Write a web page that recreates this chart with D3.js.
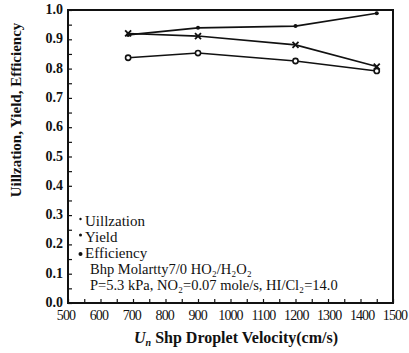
<!DOCTYPE html>
<html>
<head>
<meta charset="utf-8">
<script src="https://cdn.jsdelivr.net/npm/d3@7"></script>
<style>
  body { margin: 0; background: #fff; }
  text { font-family: "Liberation Serif", "DejaVu Serif", serif; fill: #111; }
</style>
</head>
<body>
<div id="chart"></div>
<script>
// values
var velocity = [685, 900, 1200, 1450];
var utilization = [0.915, 0.939, 0.945, 0.989];
var yieldVals = [0.920, 0.911, 0.881, 0.807];
var efficiency = [0.837, 0.853, 0.826, 0.792];
var xTicks = [500, 600, 700, 800, 900, 1000, 1100, 1200, 1300, 1400, 1500];
var yTicks = [0.0, 0.1, 0.2, 0.3, 0.4, 0.5, 0.6, 0.7, 0.8, 0.9, 1.0];

const width = 409, height = 353;
const margin = {top: 10, right: 16, bottom: 50, left: 68};

const svg = d3.select("#chart").append("svg")
  .attr("width", width)
  .attr("height", height);

const x = d3.scaleLinear().domain([500, 1500]).range([margin.left, width - margin.right]);
const y = d3.scaleLinear().domain([0, 1]).range([height - margin.bottom, margin.top]);

// minor + major ticks, drawn inward
const xAxis = d3.axisTop(x).tickValues(d3.range(500, 1501, 50)).tickSize(4).tickFormat("");
const yAxis = d3.axisRight(y).tickValues(d3.range(0, 1.001, 0.05)).tickSize(4).tickFormat("");

svg.append("g")
  .attr("transform", "translate(0," + y(0) + ")")
  .call(xAxis)
  .call(g => g.select(".domain").remove())
  .call(g => g.selectAll("line").attr("stroke", "#111").attr("stroke-width", 1.2));

svg.append("g")
  .attr("transform", "translate(" + x(500) + ",0)")
  .call(yAxis)
  .call(g => g.select(".domain").remove())
  .call(g => g.selectAll("line").attr("stroke", "#111").attr("stroke-width", 1.2));

// frame
svg.append("rect")
  .attr("x", x(500)).attr("y", y(1))
  .attr("width", x(1500) - x(500)).attr("height", y(0) - y(1))
  .attr("fill", "none").attr("stroke", "#111").attr("stroke-width", 2);

// tick labels
svg.selectAll(".xlab").data(xTicks).enter().append("text")
  .attr("class", "xlab")
  .attr("x", function(d) { return x(d) + (d - 1000) * 0.004; })
  .attr("y", y(0) + 17)
  .attr("text-anchor", "middle")
  .style("font-size", "14px")
  .style("letter-spacing", "-0.9px")
  .text(function(d) { return d; });

svg.selectAll(".ylab").data(yTicks).enter().append("text")
  .attr("class", "ylab")
  .attr("x", x(500) - 5)
  .attr("y", function(d) { return y(d) + 4; })
  .attr("text-anchor", "end")
  .style("font-size", "14px")
  .style("font-weight", "bold")
  .text(function(d) { return d.toFixed(1); });

// axis titles
const xt = svg.append("text")
  .attr("x", 236).attr("y", 343)
  .attr("text-anchor", "middle")
  .style("font-size", "16px")
  .style("font-weight", "bold");
xt.append("tspan").style("font-style", "italic").text("U");
xt.append("tspan").style("font-style", "italic").style("font-size", "10px").attr("dy", 3).text("n");
xt.append("tspan").attr("dy", -3).text(" Shp Droplet Velocity(cm/s)");

svg.append("text")
  .attr("transform", "translate(21,110) rotate(-90)")
  .attr("text-anchor", "middle")
  .style("font-size", "15px")
  .style("font-weight", "bold")
  .text("Uillzation, Yield, Efficiency");

// lines
const line = d3.line()
  .x(function(d) { return x(d[0]); })
  .y(function(d) { return y(d[1]); });

function pairs(vals) { return velocity.map(function(v, i) { return [v, vals[i]]; }); }

[utilization, yieldVals, efficiency].forEach(function(s) {
  svg.append("path")
    .datum(pairs(s))
    .attr("d", line)
    .attr("fill", "none")
    .attr("stroke", "#111")
    .attr("stroke-width", 1.6);
});

// markers
svg.selectAll(".mu").data(pairs(utilization)).enter().append("circle")
  .attr("cx", function(d) { return x(d[0]); })
  .attr("cy", function(d) { return y(d[1]); })
  .attr("r", 2).attr("fill", "#111");

svg.selectAll(".my").data(pairs(yieldVals)).enter().append("path")
  .attr("transform", function(d) { return "translate(" + x(d[0]) + "," + y(d[1]) + ")"; })
  .attr("d", "M-3,-3L3,3M-3,3L3,-3")
  .attr("stroke", "#111").attr("stroke-width", 1.8);

svg.selectAll(".me").data(pairs(efficiency)).enter().append("circle")
  .attr("cx", function(d) { return x(d[0]); })
  .attr("cy", function(d) { return y(d[1]); })
  .attr("r", 2.6).attr("fill", "#fff").attr("stroke", "#111").attr("stroke-width", 1.6);

// legend
var legendItems = [
  {label: "Uillzation", r: 1.2, yy: 226},
  {label: "Yield", r: 1.5, yy: 242},
  {label: "Efficiency", r: 2, yy: 258}
];
legendItems.forEach(function(d) {
  svg.append("circle").attr("cx", 80.5).attr("cy", d.yy - 7 + (d.r > 1.6 ? 3 : 0)).attr("r", d.r).attr("fill", "#111");
  svg.append("text").attr("x", 85).attr("y", d.yy).style("font-size", "15px").text(d.label);
});

svg.append("text").attr("x", 90).attr("y", 274).style("font-size", "14.5px")
  .text("Bhp Molartty7/0 HO\u2082/H\u2082O\u2082");

svg.append("text").attr("x", 90).attr("y", 290).style("font-size", "14.5px")
  .text("P=5.3 kPa, NO\u2082=0.07 mole/s, HI/Cl\u2082=14.0");
</script>
</body>
</html>
